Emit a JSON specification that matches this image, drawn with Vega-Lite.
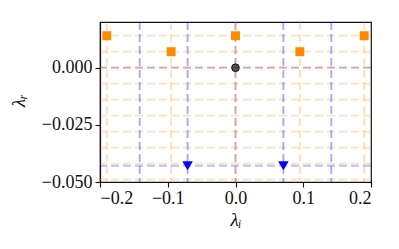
{
  "$schema": "https://vega.github.io/schema/vega-lite/v6.json",
  "width": 271,
  "height": 160,
  "autosize": {"type": "none"},
  "padding": {"left": 100, "top": 22, "right": 28, "bottom": 67},
  "background": "white",
  "config": {
    "view": {"stroke": "#111", "strokeWidth": 1.2}
  },
  "datasets": {
    "vlines": [
      {"x": -0.19, "s": "orange"}, {"x": -0.095, "s": "orange"}, {"x": 0.0, "s": "orange"},
      {"x": 0.095, "s": "orange"}, {"x": 0.19, "s": "orange"},
      {"x": -0.1414, "s": "blue"}, {"x": -0.0707, "s": "blue"},
      {"x": 0.0707, "s": "blue"}, {"x": 0.1414, "s": "blue"},
      {"x": 0.0, "s": "black"}
    ],
    "hlines": [
      {"y": 0.014, "s": "orange"}, {"y": 0.007, "s": "orange"}, {"y": 0.0, "s": "orange"},
      {"y": -0.007, "s": "orange"}, {"y": -0.014, "s": "orange"}, {"y": -0.021, "s": "orange"},
      {"y": -0.028, "s": "orange"}, {"y": -0.035, "s": "orange"}, {"y": -0.042, "s": "orange"},
      {"y": -0.049, "s": "orange"},
      {"y": -0.0429, "s": "blue"},
      {"y": 0.0, "s": "black"}
    ],
    "points": [
      {"x": -0.19, "y": 0.014, "s": "orange"}, {"x": 0.0, "y": 0.014, "s": "orange"},
      {"x": 0.19, "y": 0.014, "s": "orange"}, {"x": -0.095, "y": 0.007, "s": "orange"},
      {"x": 0.095, "y": 0.007, "s": "orange"},
      {"x": 0.0, "y": 0.0, "s": "black"},
      {"x": -0.0707, "y": -0.0429, "s": "blue"}, {"x": 0.0707, "y": -0.0429, "s": "blue"}
    ]
  },
  "layer": [
    {
      "data": {"name": "hlines"},
      "transform": [{"filter": "datum.s === 'orange'"}],
      "mark": {"type": "rule", "color": "#ff8c00", "opacity": 0.25, "strokeWidth": 1.8, "strokeDash": [8, 4]},
      "encoding": {
        "y": {"field": "y", "type": "quantitative", "scale": {"domain": [-0.05, 0.02], "nice": false, "zero": false},
          "axis": {"values": [0, -0.025, -0.05], "format": ".3f", "title": "λᵣ", "grid": false,
            "titleX": -82, "titleY": 78, "titleBaseline": "middle", "titleAngle": -90, "titleAlign": "center",
            "labelPadding": 3, "tickSize": 5, "tickWidth": 1.1, "tickColor": "#111", "domainColor": "#111", "domainWidth": 1.2,
            "labelFont": "Liberation Serif", "labelFontSize": 18, "labelColor": "#111",
            "titleFont": "Liberation Serif", "titleFontSize": 19, "titleFontWeight": "normal", "titleFontStyle": "italic", "titleColor": "#111"}}
      }
    },
    {
      "data": {"name": "vlines"},
      "transform": [{"filter": "datum.s === 'orange'"}],
      "mark": {"type": "rule", "color": "#ff8c00", "opacity": 0.28, "strokeWidth": 1.8, "strokeDash": [8, 4]},
      "encoding": {
        "x": {"field": "x", "type": "quantitative", "scale": {"domain": [-0.2, 0.2], "nice": false, "zero": false},
          "axis": {"values": [-0.2, -0.1, 0, 0.1, 0.2], "format": ".1f", "title": "λᵢ", "grid": false,
            "titleY": 37, "titleBaseline": "middle", "labelPadding": 2,
            "tickSize": 5, "tickWidth": 1.1, "tickColor": "#111", "domainColor": "#111", "domainWidth": 1.2,
            "labelFont": "Liberation Serif", "labelFontSize": 18, "labelColor": "#111",
            "titleFont": "Liberation Serif", "titleFontSize": 19, "titleFontWeight": "normal", "titleFontStyle": "italic", "titleColor": "#111"}}
      }
    },
    {
      "data": {"name": "hlines"},
      "transform": [{"filter": "datum.s === 'blue'"}],
      "mark": {"type": "rule", "color": "#0000ff", "opacity": 0.25, "strokeWidth": 1.8, "strokeDash": [8, 4]},
      "encoding": {"y": {"field": "y", "type": "quantitative"}}
    },
    {
      "data": {"name": "vlines"},
      "transform": [{"filter": "datum.s === 'blue'"}],
      "mark": {"type": "rule", "color": "#0000ff", "opacity": 0.35, "strokeWidth": 1.8, "strokeDash": [8, 4]},
      "encoding": {"x": {"field": "x", "type": "quantitative"}}
    },
    {
      "data": {"name": "hlines"},
      "transform": [{"filter": "datum.s === 'black'"}],
      "mark": {"type": "rule", "color": "#803070", "opacity": 0.35, "strokeWidth": 1.8, "strokeDash": [8, 4]},
      "encoding": {"y": {"field": "y", "type": "quantitative"}}
    },
    {
      "data": {"name": "vlines"},
      "transform": [{"filter": "datum.s === 'black'"}],
      "mark": {"type": "rule", "color": "#803070", "opacity": 0.35, "strokeWidth": 1.8, "strokeDash": [8, 4]},
      "encoding": {"x": {"field": "x", "type": "quantitative"}}
    },
    {
      "data": {"name": "points"},
      "transform": [{"filter": "datum.s === 'orange'"}],
      "mark": {"type": "point", "shape": "square", "filled": true, "color": "#ff8c00", "opacity": 1, "size": 80},
      "encoding": {"x": {"field": "x", "type": "quantitative"}, "y": {"field": "y", "type": "quantitative"}}
    },
    {
      "data": {"name": "points"},
      "transform": [{"filter": "datum.s === 'black'"}],
      "mark": {"type": "point", "shape": "circle", "filled": true, "fill": "#333333", "fillOpacity": 0.85, "stroke": "#000000", "strokeWidth": 1, "strokeOpacity": 0.8, "size": 60},
      "encoding": {"x": {"field": "x", "type": "quantitative"}, "y": {"field": "y", "type": "quantitative"}}
    },
    {
      "data": {"name": "points"},
      "transform": [{"filter": "datum.s === 'blue'"}],
      "mark": {"type": "point", "shape": "triangle-down", "filled": true, "color": "#0000ff", "opacity": 1, "size": 110},
      "encoding": {"x": {"field": "x", "type": "quantitative"}, "y": {"field": "y", "type": "quantitative"}}
    }
  ]
}
